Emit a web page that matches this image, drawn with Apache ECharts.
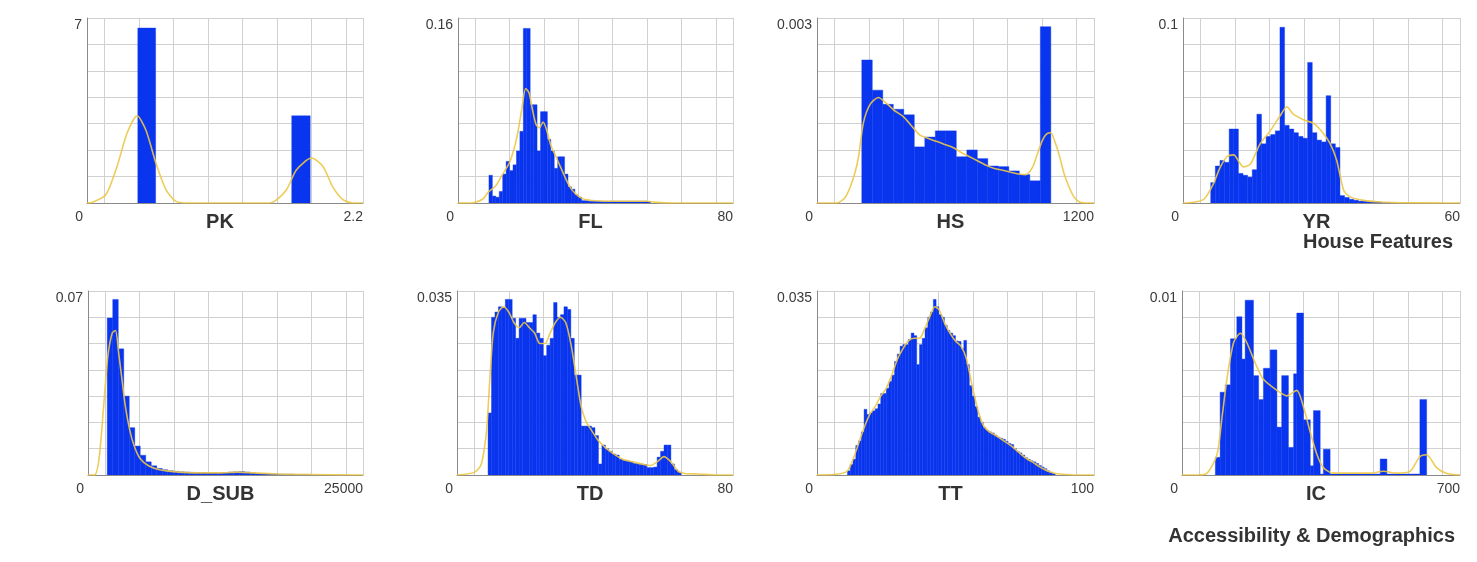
<!DOCTYPE html>
<html><head><meta charset="utf-8">
<script src="https://cdn.jsdelivr.net/npm/echarts@6/dist/echarts.min.js"></script>
<style>html,body{margin:0;padding:0;background:#fff}#c{width:1477px;height:562px}</style>
</head><body><div id="c"></div>
<script>
// ---------- DATA ----------
const panelNames = ['PK', 'FL', 'HS', 'YR', 'D_SUB', 'TD', 'TT', 'IC'];
const xMaxes = [2.2, 80, 1200, 60, 25000, 80, 100, 700];
const yMaxes = [7, 0.16, 0.003, 0.1, 0.07, 0.035, 0.035, 0.01];
const xTickLabels = ['2.2', '80', '1200', '60', '25000', '80', '100', '700'];
const yTickLabels = ['7', '0.16', '0.003', '0.1', '0.07', '0.035', '0.035', '0.01'];
const groupTitles = ['House Features', 'Accessibility & Demographics'];

// PK histogram (explicit bins)
const pkLeft = [0.405, 1.632];
const pkRight = [0.547, 1.779];
const pkHeights = [6.62, 3.3];
const pkKde = [[0,0],[0.04,0.02],[0.15,0.31],[0.24,1.39],[0.32,2.65],[0.40,3.3],[0.47,2.75],[0.55,1.5],[0.63,0.5],[0.71,0.06],[0.8,0],[1.45,0],[1.5,0.08],[1.59,0.5],[1.67,1.26],[1.79,1.7],[1.88,1.39],[1.96,0.6],[2.04,0.13],[2.12,0],[2.2,0]];

// FL histogram (bin start 9, width 1)
const flStart = 9, flWidth = 1;
const flHeights = [0.024,0.006,0.005,0.01,0.025,0.036,0.028,0.033,0.045,0.062,0.151,0.151,0.085,0.085,0.045,0.079,0.079,0.055,0.045,0.03,0.04,0.04,0.025,0.014,0.012,0.007,0.005,0.002,0.002,0.0015,0.0015,0.0015,0.0015,0.0015,0.0015,0.0015,0.0015,0.0015,0.0015,0.0015,0.0015,0.0015,0.0015,0.0015,0.0015,0.0015,0.001];
const flKde = [[0,0],[4,0],[7,0.003],[9,0.01],[11,0.015],[13,0.025],[15,0.035],[17,0.055],[18.5,0.08],[19.7,0.099],[20.7,0.095],[21.7,0.08],[22.7,0.068],[23.7,0.065],[24.7,0.07],[25.7,0.064],[27,0.05],[28.5,0.04],[30,0.03],[31.5,0.02],[33,0.012],[35,0.006],[37,0.003],[40,0.002],[45,0.0015],[50,0.0015],[55,0.0015],[58,0.0005],[62,0],[80,0]];

// HS histogram (bin start 194, width 45.5)
const hsStart = 194, hsWidth = 45.5;
const hsHeights = [0.00232,0.00183,0.0016,0.00152,0.00143,0.00091,0.00107,0.00117,0.00117,0.00075,0.00086,0.00072,0.0006,0.00059,0.00052,0.00046,0.00036,0.00286];
const hsKde = [[0,0],[86,0],[120,0.00008],[144,0.00026],[165,0.0005],[180,0.00075],[201,0.0013],[230,0.0016],[266,0.00171],[300,0.00162],[335,0.0015],[374,0.0014],[410,0.00125],[446,0.0011],[480,0.00105],[517,0.001],[553,0.00095],[589,0.0009],[625,0.00082],[661,0.00075],[697,0.00068],[733,0.00061],[769,0.00056],[805,0.00053],[840,0.0005],[876,0.00047],[905,0.00046],[934,0.00058],[955,0.0008],[977,0.00102],[995,0.00112],[1013,0.00114],[1030,0.001],[1049,0.00078],[1070,0.00048],[1092,0.00026],[1113,0.0001],[1135,0.00002],[1160,0],[1200,0]];

// YR histogram (bin start 6, width 1)
const yrStart = 6, yrWidth = 1;
const yrHeights = [0.011,0.02,0.023,0.022,0.04,0.04,0.016,0.015,0.014,0.018,0.048,0.032,0.036,0.037,0.039,0.095,0.042,0.04,0.038,0.036,0.035,0.076,0.038,0.034,0.033,0.058,0.032,0.03,0.004,0.003,0.002,0.0015,0.001,0.001,0.0008,0.0005,0.0005,0.0003,0.0003];
const yrKde = [[0,0],[0.5,0],[4.5,0.002],[6.6,0.0105],[8,0.019],[9.5,0.025],[11,0.026],[12.2,0.022],[13.1,0.0195],[14.6,0.021],[16.7,0.032],[18.9,0.039],[21,0.047],[22.5,0.052],[23.9,0.048],[26.1,0.045],[28.3,0.043],[30.4,0.0376],[31.9,0.032],[33.3,0.023],[34.8,0.0069],[36.2,0.0033],[39.1,0.0014],[42.7,0.0005],[46.3,0.0002],[57,0],[60,0]];

// D_SUB histogram (bin start 1750, width 500)
const dsStart = 1750, dsWidth = 500;
const dsHeights = [0.0597,0.0668,0.048,0.03,0.018,0.011,0.0075,0.005,0.0035,0.0025,0.002,0.0016,0.0014,0.0012,0.0011,0.001,0.0009,0.0009,0.0008,0.0008,0.0008,0.0009,0.0011,0.0012,0.0013,0.0011,0.0008,0.0006,0.0005,0.0004,0.0004,0.0003,0.0003,0.0003,0.0002,0.0002,0.0002];
const dsKde = [[0,0],[600,0],[1000,0.006],[1400,0.025],[1800,0.045],[2200,0.054],[2500,0.055],[2800,0.046],[3100,0.036],[3400,0.026],[3800,0.017],[4200,0.011],[4700,0.0065],[5500,0.0035],[6500,0.002],[8000,0.0012],[10000,0.0008],[12000,0.0008],[13700,0.0011],[15000,0.0008],[17000,0.0004],[20000,0.0002],[25000,0]];

// TD histogram (bin start 9, width 1)
const tdStart = 9, tdWidth = 1;
const tdHeights = [0.0118,0.03,0.031,0.032,0.0318,0.0334,0.0334,0.0298,0.026,0.0298,0.0298,0.029,0.029,0.0305,0.027,0.026,0.0227,0.0247,0.026,0.0328,0.03,0.0305,0.032,0.0315,0.026,0.019,0.019,0.0093,0.0093,0.0093,0.009,0.0075,0.0021,0.0057,0.005,0.0045,0.004,0.0038,0.003,0.0028,0.0027,0.0025,0.0022,0.0022,0.0021,0.002,0.0014,0.0014,0.0015,0.0034,0.0045,0.0057,0.0057,0.0021,0.001,0.0005];
const tdKde = [[0,0],[5,0.0005],[7,0.002],[8.5,0.008],[9.5,0.018],[10.5,0.027],[12,0.031],[13.5,0.032],[15,0.031],[16.5,0.029],[18,0.028],[19.5,0.029],[21,0.028],[22.5,0.027],[24,0.025],[25.5,0.025],[27,0.027],[28.5,0.029],[30,0.03],[31.5,0.029],[33,0.025],[34.5,0.019],[36,0.013],[37.5,0.01],[39,0.0085],[41,0.0065],[43,0.0052],[45,0.0042],[48,0.003],[51,0.0025],[54,0.002],[56,0.0018],[58,0.0025],[60,0.0035],[62,0.0025],[64,0.0008],[66,0.0003],[70,0.0002],[75,0],[80,0]];

// TT histogram (bin start 11, width 1)
const ttStart = 11, ttWidth = 1;
const ttHeights = [0.0008,0.002,0.003,0.0056,0.0065,0.0082,0.0125,0.0115,0.0118,0.0122,0.0126,0.0135,0.0155,0.0155,0.0165,0.0178,0.019,0.0216,0.023,0.0245,0.0248,0.0248,0.0258,0.027,0.0265,0.021,0.0248,0.026,0.028,0.03,0.031,0.0334,0.032,0.0305,0.03,0.0285,0.0275,0.027,0.0265,0.0255,0.0254,0.024,0.0256,0.021,0.017,0.015,0.013,0.011,0.01,0.009,0.0085,0.0082,0.008,0.0076,0.0072,0.007,0.0068,0.0064,0.006,0.0058,0.005,0.0045,0.0042,0.0038,0.0033,0.003,0.0027,0.0025,0.0022,0.0018,0.0015,0.0012,0.0008,0.0005,0.0003];
const ttKde = [[0,0],[8,0.0002],[11,0.0008],[13,0.003],[15,0.006],[17,0.009],[19,0.0115],[21,0.013],[23,0.015],[25,0.0165],[27,0.019],[29,0.022],[31,0.024],[33,0.0255],[35,0.026],[37,0.026],[39,0.028],[41,0.0305],[42.5,0.032],[44,0.0315],[46,0.029],[48,0.027],[50,0.0255],[52,0.0245],[54,0.022],[56,0.017],[58,0.0125],[60,0.0095],[62,0.0083],[64,0.0077],[66,0.007],[68,0.0063],[70,0.0056],[72,0.0047],[74,0.0038],[76,0.003],[78,0.0024],[80,0.0017],[82,0.0011],[84,0.0006],[86,0.0003],[90,0.0001],[95,0],[100,0]];

// IC histogram (explicit bins)
const icLeft =  [84,96,109,122,138,151,159,180,193,205,222,239,251,268,281,289,306,323,331,348,356,373,499,516,599];
const icRight = [96,109,122,138,151,159,180,193,205,222,239,251,268,281,289,306,323,331,348,356,373,499,516,599,616];
const icHeights = [0.00096,0.0045,0.0049,0.0074,0.0086,0.0063,0.0095,0.0054,0.0041,0.0058,0.0068,0.0026,0.0054,0.0015,0.0055,0.0088,0.003,0.0005,0.0035,0.00005,0.0014,0.00005,0.00087,0.00005,0.0041];
const icKde = [[0,0],[40,0],[63,0.0001],[88,0.0011],[100,0.003],[113,0.0052],[130,0.0072],[147,0.0077],[163,0.0072],[188,0.0059],[205,0.0052],[239,0.0046],[264,0.0043],[289,0.0046],[306,0.0037],[322,0.0024],[340,0.0011],[356,0.0004],[380,0.0001],[430,0.0001],[474,0.0001],[507,0.0002],[540,0.0001],[574,0.0002],[599,0.001],[616,0.0011],[641,0.0004],[665,0.0001],[700,0]];

// ---------- BUILD ----------
function uniformBins(start, width, heights) {
  return heights.map((h, i) => [start + i * width, start + (i + 1) * width, h]);
}
function explicitBins(lefts, rights, heights) {
  return heights.map((h, i) => [lefts[i], rights[i], h]);
}
const allBins = [
  explicitBins(pkLeft, pkRight, pkHeights),
  uniformBins(flStart, flWidth, flHeights),
  uniformBins(hsStart, hsWidth, hsHeights),
  uniformBins(yrStart, yrWidth, yrHeights),
  uniformBins(dsStart, dsWidth, dsHeights),
  uniformBins(tdStart, tdWidth, tdHeights),
  uniformBins(ttStart, ttWidth, ttHeights),
  explicitBins(icLeft, icRight, icHeights)
];
const allKde = [pkKde, flKde, hsKde, yrKde, dsKde, tdKde, ttKde, icKde];

const FONT = '"Liberation Sans", Arial, Helvetica, sans-serif';
const BLUE = '#0a35ee';
const GOLD = 'rgba(236,198,70,0.9)';
const GRIDC = '#d0d0d0';
const AXC = '#8a8a8a';
const LABC = '#3a3a3a';

const gridPos = [
  {left: 87, top: 18, width: 276, height: 185},
  {left: 458, top: 18, width: 275, height: 185},
  {left: 817, top: 18, width: 277, height: 185},
  {left: 1183, top: 18, width: 277, height: 185},
  {left: 88, top: 291, width: 275, height: 184},
  {left: 457, top: 291, width: 276, height: 184},
  {left: 817, top: 291, width: 277, height: 184},
  {left: 1182, top: 291, width: 278, height: 184}
];

const grids = [], xAxes = [], yAxes = [], series = [];
for (let i = 0; i < 8; i++) {
  grids.push(Object.assign({containLabel: false, outerBoundsMode: 'none', show: false}, gridPos[i]));
  const xMax = xMaxes[i], yMax = yMaxes[i];
  xAxes.push({
    type: 'value', gridIndex: i, min: 0, max: xMax, interval: xMax, position: 'bottom',
    axisLine: {show: true, onZero: false, lineStyle: {color: AXC, width: 1}},
    axisTick: {show: false}, splitLine: {show: false},
    axisLabel: {
      show: true, margin: 7, alignMinLabel: 'right', alignMaxLabel: 'right',
      formatter: (v) => Math.abs(v) < xMax * 1e-6 ? '{mn|0}' : '{mx|' + xTickLabels[i] + '}',
      rich: {
        mn: {fontSize: 14, color: LABC, fontFamily: FONT, padding: [0, 4, 0, 0]},
        mx: {fontSize: 14, color: LABC, fontFamily: FONT}
      }
    },
    name: panelNames[i], nameLocation: 'middle', nameGap: 9, nameMoveOverlap: false,
    nameTextStyle: {fontSize: 20, fontWeight: 'bold', color: '#333', fontFamily: FONT, padding: [0, 10, 0, 0]}
  });
  xAxes.push({
    type: 'value', gridIndex: i, min: -0.5, max: 7.5, splitNumber: 8, position: 'top',
    axisLine: {show: false}, axisTick: {show: false}, axisLabel: {show: false},
    splitLine: {show: true, lineStyle: {color: GRIDC, width: 1}}
  });
  yAxes.push({
    type: 'value', gridIndex: i, min: 0, max: yMax, interval: yMax, position: 'left',
    axisLine: {show: true, onZero: false, lineStyle: {color: AXC, width: 1}},
    axisTick: {show: false}, splitLine: {show: false},
    axisLabel: {
      show: true, margin: 5, fontSize: 14, color: LABC, fontFamily: FONT, verticalAlign: 'top',
      formatter: (v) => Math.abs(v) < yMax * 1e-6 ? '' : yTickLabels[i]
    }
  });
  yAxes.push({
    type: 'value', gridIndex: i, min: 0, max: 7, interval: 1, position: 'right',
    axisLine: {show: false}, axisTick: {show: false}, axisLabel: {show: false},
    splitLine: {show: true, lineStyle: {color: GRIDC, width: 1}}
  });
  series.push({
    type: 'custom', xAxisIndex: 2 * i, yAxisIndex: 2 * i, data: allBins[i], z: 2,
    encode: {x: [0, 1], y: 2}, clip: true, silent: true,
    renderItem: function (params, api) {
      const p0 = api.coord([api.value(0), api.value(2)]);
      const p1 = api.coord([api.value(1), 0]);
      return {type: 'rect', shape: {x: p0[0], y: p0[1], width: p1[0] - p0[0], height: p1[1] - p0[1]},
        style: {fill: BLUE, stroke: BLUE, lineWidth: 0.4}};
    }
  });
  series.push({
    type: 'line', xAxisIndex: 2 * i, yAxisIndex: 2 * i, data: allKde[i], z: 3,
    showSymbol: false, smooth: 0.25, silent: true,
    lineStyle: {color: GOLD, width: 1.6}
  });
}

const chart = echarts.init(document.getElementById('c'), null, {renderer: 'canvas'});
chart.setOption({
  backgroundColor: '#ffffff',
  animation: false,
  title: [
    {text: groupTitles[0], right: 24, top: 232, padding: 0,
      textStyle: {fontSize: 20, fontWeight: 'bold', color: '#333', fontFamily: FONT}},
    {text: groupTitles[1], right: 22, top: 526, padding: 0,
      textStyle: {fontSize: 20, fontWeight: 'bold', color: '#333', fontFamily: FONT}}
  ],
  grid: grids, xAxis: xAxes, yAxis: yAxes, series: series
});
</script></body></html>
